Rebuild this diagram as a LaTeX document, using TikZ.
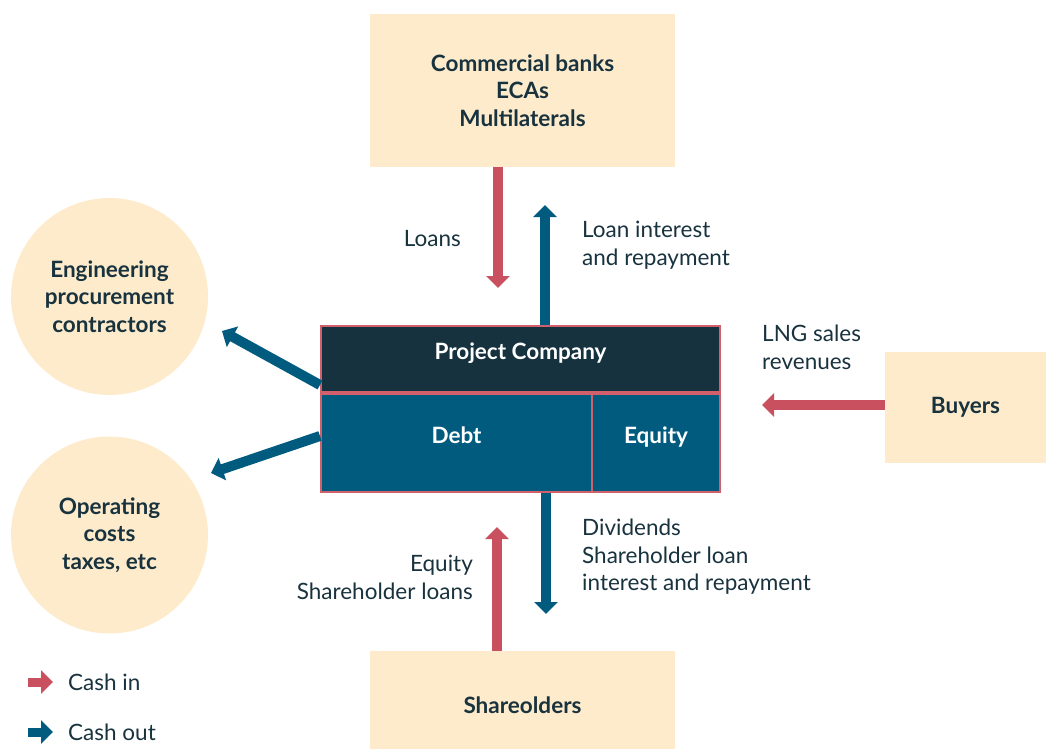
\documentclass[tikz,border=0pt]{standalone}
\usepackage{fontspec}
\setmainfont{Lato}
\definecolor{navy1}{RGB}{22, 50, 63}
\definecolor{teal1}{RGB}{0, 91, 127}
\definecolor{red1}{RGB}{201, 80, 94}
\definecolor{edge1}{RGB}{210, 96, 108}
\definecolor{beige1}{RGB}{253, 235, 204}
\definecolor{ink1}{RGB}{24, 50, 62}
\usetikzlibrary{arrows.meta, positioning, calc}

\begin{document}
\begin{tikzpicture}[x=1pt, y=-1pt,
  party/.style={fill=beige1, text=ink1, inner sep=0pt, align=center, font=\bfseries\fontsize{22.5}{27.5}\selectfont},
  circ/.style={party, circle, minimum size=197pt},
  part/.style={draw=edge1, line width=2pt, text=white, inner sep=0pt, text height=16pt, text depth=16pt, font=\bfseries\fontsize{22.5}{27.5}\selectfont},
  cashin/.style={red1, line width=10pt, -{Triangle[width=23pt, length=12pt]}},
  cashout/.style={cashin, teal1},
  lbl/.style={text=ink1, inner sep=0pt, font=\fontsize{22.5}{27.5}\selectfont}]
  \useasboundingbox (0,0) rectangle (1046,749);

  % parties around the project
  \node[party, minimum width=305pt, minimum height=152pt] (banks) at (522.5,90.5) {Commercial banks\\ECAs\\Multilaterals};
  \node[circ] (epc) at (109.5,296.5) {Engineering\\procurement\\contractors};
  \node[circ] (opex) at (109.5,535) {Operating\\costs\\taxes, etc};
  \node[party, minimum width=161pt, minimum height=111pt] (buyers) at (965.5,407.5) {Buyers};
  \node[party, minimum width=305pt, minimum height=108pt] (holders) at (522.5,705) {Shareolders};

  % project company
  \node[part, fill=navy1, minimum width=399pt, minimum height=66pt] (pc) at (520.5,359) {Project Company};
  \node[part, fill=teal1, minimum width=271pt, minimum height=98pt, anchor=north west] (debt) at (pc.south west) {Debt};
  \node[part, fill=teal1, minimum width=128pt, minimum height=98pt, anchor=north east] (equity) at (pc.south east) {Equity};

  % flows
  \coordinate (loanstip) at (498,288);
  \coordinate (repaytip) at (545,205);
  \coordinate (epctip) at (222,331);
  \coordinate (opextip) at (211,473);
  \coordinate (salestip) at (762,405);
  \coordinate (eqtip) at (497,527);
  \coordinate (divtip) at (546,614);
  \draw[cashin] (banks.south -| loanstip) -- (loanstip);
  \draw[cashout] (pc.north -| repaytip) -- (repaytip);
  \draw[cashout] ([yshift=-26pt]pc.west) -- (epctip);
  \draw[cashout] ([yshift=7pt]debt.west) -- (opextip);
  \draw[cashin] (buyers.west |- salestip) -- (salestip);
  \draw[cashin] (holders.north -| eqtip) -- (eqtip);
  \draw[cashout] (debt.south -| divtip) -- (divtip);

  \node[lbl, anchor=base east] (loanslbl) at (461,246) {Loans};
  \node[lbl, anchor=north west, align=left] (repaylbl) at (582,221) {Loan interest\\and repayment};
  \node[lbl, anchor=north west, align=left] (saleslbl) at (762,325) {LNG sales\\revenues};
  \node[lbl, anchor=north east, align=right] (eqlbl) at (473,555) {Equity\\Shareholder loans};
  \node[lbl, anchor=north west, align=left] (divlbl) at (582,519) {Dividends\\Shareholder loan\\interest and repayment};

  % key
  \coordinate (inkey) at (28,682);
  \coordinate (inkeytip) at (53,682);
  \coordinate (outkey) at (28,732);
  \coordinate (outkeytip) at (53,732);
  \draw[cashin, line width=9pt] (inkey) -- (inkeytip);
  \draw[cashout, line width=9pt] (outkey) -- (outkeytip);
  \node[lbl, anchor=west] (inlbl) at (68,682) {Cash in};
  \node[lbl, anchor=west] (outlbl) at (68,732) {Cash out};
\end{tikzpicture}
\end{document}
